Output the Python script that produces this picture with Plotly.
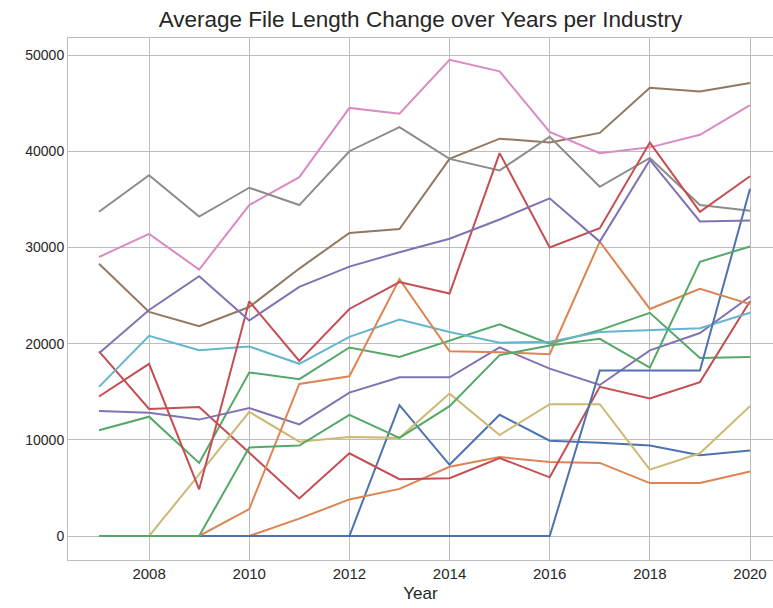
import plotly.graph_objects as go

years = list(range(2007, 2021))

industry_names = [f"Industry {i}" for i in range(1, 16)]

s01 = [0, 0, 0, 0, 0, 0, 13600, 7400, 12600, 9900, 9700, 9400, 8400, 8900]
s02 = [0, 0, 0, 0, 1800, 3800, 4900, 7200, 8200, 7700, 7600, 5500, 5500, 6700]
s03 = [11000, 12400, 7600, 17000, 16300, 19600, 18600, 20300, 22000, 20000, 21400, 23200, 18500, 18600]
s04 = [19200, 13200, 13400, 8700, 3900, 8600, 5900, 6000, 8100, 6100, 15500, 14300, 16000, 24400]
s05 = [13000, 12800, 12100, 13300, 11600, 14900, 16500, 16500, 19600, 17400, 15700, 19300, 21100, 24900]
s06 = [28300, 23300, 21800, 23800, 27800, 31500, 31900, 39200, 41300, 40900, 41900, 46600, 46200, 47100]
s07 = [29000, 31400, 27700, 34400, 37300, 44500, 43900, 49500, 48300, 42000, 39800, 40400, 41700, 44800]
s08 = [33700, 37500, 33200, 36200, 34400, 40000, 42500, 39200, 38000, 41500, 36300, 39300, 34400, 33800]
s09 = [0, 0, 6400, 12900, 9800, 10300, 10200, 14800, 10500, 13700, 13700, 6900, 8600, 13500]
s10 = [15500, 20800, 19300, 19700, 17900, 20700, 22500, 21200, 20100, 20200, 21200, 21400, 21600, 23200]
s11 = [0, 0, 0, 0, 0, 0, 0, 0, 0, 0, 17200, 17200, 17200, 36100]
s12 = [0, 0, 0, 2800, 15800, 16600, 26700, 19200, 19100, 18900, 30600, 23600, 25700, 24100]
s13 = [0, 0, 0, 9200, 9400, 12600, 10200, 13500, 18800, 19800, 20500, 17500, 28500, 30100]
s14 = [14500, 17900, 4850, 24400, 18200, 23600, 26400, 25200, 39800, 30000, 32000, 40900, 33700, 37400]
s15 = [19000, 23500, 27000, 22400, 25900, 28000, 29500, 30900, 32900, 35100, 30600, 39100, 32700, 32800]

series = [s01, s02, s03, s04, s05, s06, s07, s08, s09, s10, s11, s12, s13, s14, s15]

palette = ["#4C72B0", "#DD8452", "#55A868", "#C44E52", "#8172B3",
           "#937860", "#DA8BC3", "#8C8C8C", "#CCB974", "#64B5CD"]

x_ticks = [2008, 2010, 2012, 2014, 2016, 2018, 2020]
y_ticks = [0, 10000, 20000, 30000, 40000, 50000]

fig = go.Figure()
for i, (name, vals) in enumerate(zip(industry_names, series)):
    fig.add_trace(go.Scatter(
        x=years, y=vals, mode="lines", name=name,
        line=dict(color=palette[i % len(palette)], width=2),
    ))

font_family = "Liberation Sans, Arial, sans-serif"
W, H = 773, 608
fig.update_layout(
    width=W, height=H,
    margin=dict(l=68, r=0, t=38, b=48),
    paper_bgcolor="white", plot_bgcolor="white",
    showlegend=False,
    font=dict(family=font_family, color="#262626", size=14),
    title=dict(text="Average File Length Change over Years per Industry",
               x=0.5, xanchor="center", y=1 - 19 / H, yanchor="middle",
               xref="paper",
               font=dict(size=22.5, color="#262626", family=font_family)),
)
fig.update_xaxes(
    range=[2006.381, 2020.459],
    tickvals=x_ticks, ticktext=[str(v) for v in x_ticks],
    showgrid=True, gridcolor="#bdbdbd", gridwidth=1,
    showline=True, linecolor="#bdbdbd", linewidth=1, mirror=True,
    zeroline=False, ticks="",
    tickfont=dict(size=15, color="#262626"),
    title=dict(text="Year", font=dict(size=17, color="#262626"), standoff=6),
)
fig.update_yaxes(
    range=[-2495, 51767],
    tickvals=y_ticks, ticktext=[str(v) for v in y_ticks],
    showgrid=True, gridcolor="#bdbdbd", gridwidth=1,
    showline=True, linecolor="#bdbdbd", linewidth=1, mirror=True,
    zeroline=False, ticks="",
    tickfont=dict(size=14, color="#262626"),
)

fig.write_html(
    "out.html",
    config={"displayModeBar": False},
    post_script="document.body.style.margin='0';document.body.style.overflow='hidden';",
)
